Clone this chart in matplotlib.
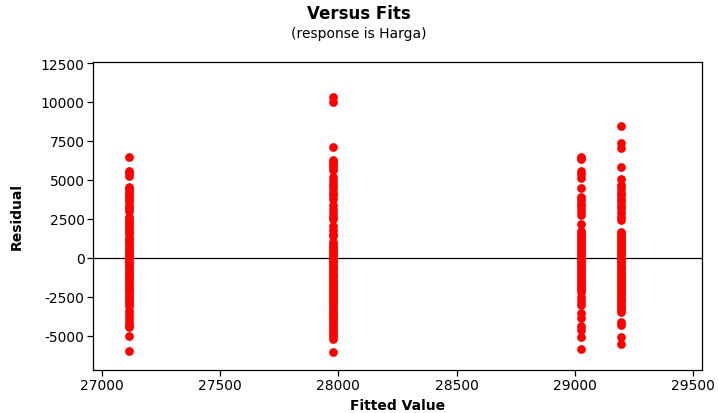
import matplotlib.pyplot as plt

# fitted values of the four groups and their residuals
fits = [27114, 27977, 29025, 29195]

resid_1 = [6450, 5600, 5450, 5250, 4550, 4400, 4200, 4050, 3900, 3700, 3550, 3350,
           3200, 3000, 2600, 2450, 2300, 2150, 1950, 1800, 1650, 1500, 1300, 1150,
           1000, 850, 650, 500, 350, 200, 50, -100, -250, -400, -550, -700, -900,
           -1050, -1200, -1350, -1500, -1700, -1850, -2000, -2150, -2300, -2500,
           -2650, -2800, -2950, -3100, -3400, -3600, -3850, -4100, -4300, -4450,
           -5000, -5950]
resid_2 = [10350, 10000, 7100, 6300, 6150, 6000, 5800, 5650, 5200, 4950, 4700, 4450,
           4250, 4000, 3750, 3400, 3150, 2900, 2650, 2500, 2050, 1800, 1550, 1400,
           1000, 850, 700, 550, 400, 250, 100, -50, -200, -350, -500, -650, -800,
           -950, -1100, -1250, -1400, -1550, -1700, -1850, -2000, -2150, -2300,
           -2450, -2600, -2750, -2900, -3050, -3200, -3400, -3550, -3700, -3850,
           -4000, -4200, -4350, -4500, -4700, -4850, -5000, -5200, -6050]
resid_3 = [6500, 6350, 5550, 5350, 5100, 4500, 3900, 3700, 3450, 3250, 3000, 2750,
           2200, 1750, 1600, 1450, 1300, 1150, 1000, 850, 700, 550, 400, 250, 100,
           -50, -200, -350, -500, -650, -800, -950, -1100, -1250, -1400, -1550,
           -1700, -1850, -2000, -2200, -2500, -2750, -3050, -3550, -3850, -4400,
           -4650, -5050, -5850]
resid_4 = [8450, 7350, 7050, 5800, 5050, 4650, 4450, 4250, 4050, 3800, 3600, 3350,
           3150, 2900, 2650, 2400, 1650, 1500, 1350, 1200, 1050, 900, 750, 600, 450,
           300, 150, 0, -150, -300, -450, -600, -750, -900, -1050, -1200, -1350,
           -1500, -1650, -1800, -1950, -2100, -2250, -2400, -2550, -2700, -2850,
           -3000, -3150, -3300, -3450, -4150, -4300, -5100, -5500]

residuals = [resid_1, resid_2, resid_3, resid_4]
xticks = [27000, 27500, 28000, 28500, 29000, 29500]
yticks = [-5000, -2500, 0, 2500, 5000, 7500, 10000, 12500]

plt.rcParams['font.family'] = ['DejaVu Sans']
plt.rcParams['axes.unicode_minus'] = False

fig = plt.figure(figsize=(7.18, 4.14), dpi=100)
ax = fig.add_axes([0.1295, 0.1046, 0.8482, 0.7432])

for f, r in zip(fits, residuals):
    ax.plot([f] * len(r), r, 'o', color='#ff0000', markersize=6.3,
            markeredgewidth=0, zorder=3)

ax.axhline(0, color='black', linewidth=0.9, zorder=2)

ax.set_xlim(26962, 29538)
ax.set_ylim(-7180, 12565)
ax.set_xticks(xticks)
ax.set_yticks(yticks)
ax.tick_params(direction='out', length=4, width=0.9, labelsize=10,
               pad=2, top=False, right=False)
for s in ax.spines.values():
    s.set_linewidth(0.9)

ax.set_xlabel('Fitted Value', fontsize=10, fontweight='bold', labelpad=4)
ax.set_ylabel('Residual', fontsize=10, fontweight='bold', labelpad=12)

fig.text(0.5, 0.967, 'Versus Fits', ha='center', va='center',
         fontsize=12, fontweight='bold')
fig.text(0.5, 0.918, '(response is Harga)', ha='center', va='center',
         fontsize=10)

fig.savefig('out.png', dpi=100)
